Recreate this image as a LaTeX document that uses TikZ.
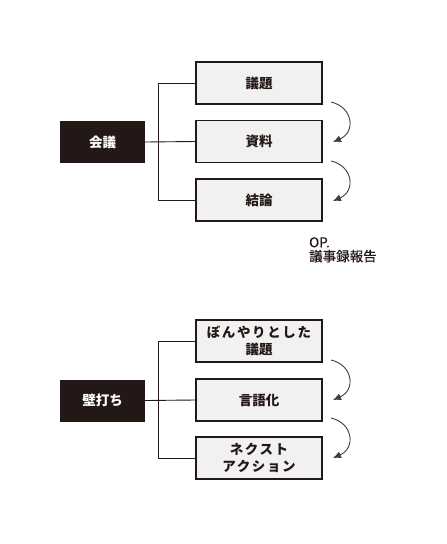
\documentclass[tikz,border=0pt]{standalone}
\usepackage{fontspec}
\newfontfamily\jp{Noto Sans CJK JP}
\newfontfamily\jpnote{Noto Sans CJK JP}[FakeBold=0.6]
\usetikzlibrary{arrows.meta,calc}
\definecolor{boxfill}{HTML}{F2F1F1}
\definecolor{darkfill}{HTML}{231815}
\definecolor{ink}{HTML}{231815}
\tikzset{
  itembox/.style={draw=ink, line width=1.1pt, fill=boxfill, minimum width=126pt, minimum height=42pt, inner sep=0pt, align=center, font=\jp\bfseries\fontsize{13.5}{17}\selectfont, text=ink},
  mainbox/.style={fill=darkfill, minimum width=85pt, minimum height=42pt, inner sep=0pt, font=\jp\bfseries\fontsize{13.5}{17}\selectfont, text=white},
  link/.style={draw=ink, line width=0.9pt},
  flow/.style={draw=ink!85, line width=0.9pt, -{Latex[length=8pt,width=7pt]}},
  note/.style={font=\jpnote\fontsize{13.5}{15}\selectfont, text=ink, align=left, inner sep=0pt}
}
\newcommand{\kanasp}[1]{{\addfontfeature{LetterSpace=12}#1}}
\begin{document}
\begin{tikzpicture}[x=1pt,y=-1pt]
\useasboundingbox (0,0) rectangle (447,544);
% top group
\node[mainbox] (m1) at (102.5,142) {会議};
\node[itembox] (b1) at (259,83) {議題};
\node[itembox] (b2) at (259,141.5) {資料};
\node[itembox] (b3) at (259,200) {結論};
\draw[link] (m1.east) -- (b2.west);
\draw[link] (b1.west) -- ++(-37,0) |- (b3.west);
\coordinate (a1s) at (331,102);
\coordinate (a1e) at (333,142);
\coordinate (a2s) at (331,161);
\coordinate (a2e) at (333,201);
\draw[flow] (a1s) .. controls (353,107) and (356,132) .. (a1e);
\draw[flow] (a2s) .. controls (353,166) and (356,191) .. (a2e);
\node[note, anchor=north west] (op) at (309,237) {OP.\\[-1pt]議事録報告};
% bottom group
\node[mainbox] (m2) at (102.5,400.5) {壁打ち};
\node[itembox] (c1) at (259,341) {\kanasp{ぼんやりとした}\\議題};
\node[itembox] (c2) at (259,400) {言語化};
\node[itembox] (c3) at (259,458) {\kanasp{ネクスト}\\\kanasp{アクション}};
\draw[link] (m2.east) -- (c2.west);
\draw[link] (c1.west) -- ++(-37,0) |- (c3.west);
\coordinate (a3s) at (331,360);
\coordinate (a3e) at (333,400);
\coordinate (a4s) at (331,418);
\coordinate (a4e) at (333,458);
\draw[flow] (a3s) .. controls (353,365) and (356,390) .. (a3e);
\draw[flow] (a4s) .. controls (353,423) and (356,448) .. (a4e);
\end{tikzpicture}
\end{document}
